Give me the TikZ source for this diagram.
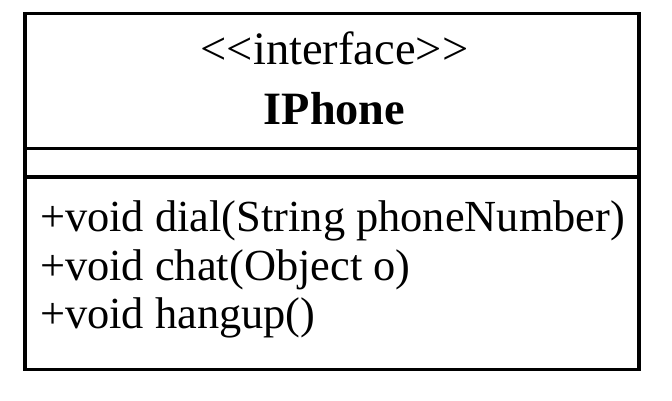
\documentclass[tikz,border=0pt]{standalone}
\usepackage{fontspec}
\setmainfont{Liberation Serif}
\begin{document}
\begin{tikzpicture}[x=1pt,y=1pt,
  boxline/.style={line width=3.5pt},
  txt/.style={inner sep=0pt,font=\fontsize{44.4}{50}\selectfont},
  stxt/.style={inner sep=0pt,font=\fontsize{46.5}{50}\selectfont},
  btxt/.style={inner sep=0pt,font=\fontsize{46.3}{50}\selectfont\bfseries}]
\useasboundingbox (0,0) rectangle (672,-401);
\draw[boxline] (25,-13.3) rectangle (639,-369.3);
\draw[boxline] (25,-148.7) -- (639,-148.7);
\draw[boxline] (25,-177) -- (639,-177);
\node[stxt,anchor=base] (stereo) at (334.5,-65) {<{}<interface>{}>};
\node[btxt,anchor=base] (name) at (334.5,-125) {IPhone};
\node[txt,anchor=base west] (m1) at (40,-231) {+void dial(String phoneNumber)};
\node[txt,anchor=base west] (m2) at (40,-280) {+void chat(Object o)};
\node[txt,anchor=base west] (m3) at (40,-328) {+void hangup()};
\end{tikzpicture}
\end{document}
